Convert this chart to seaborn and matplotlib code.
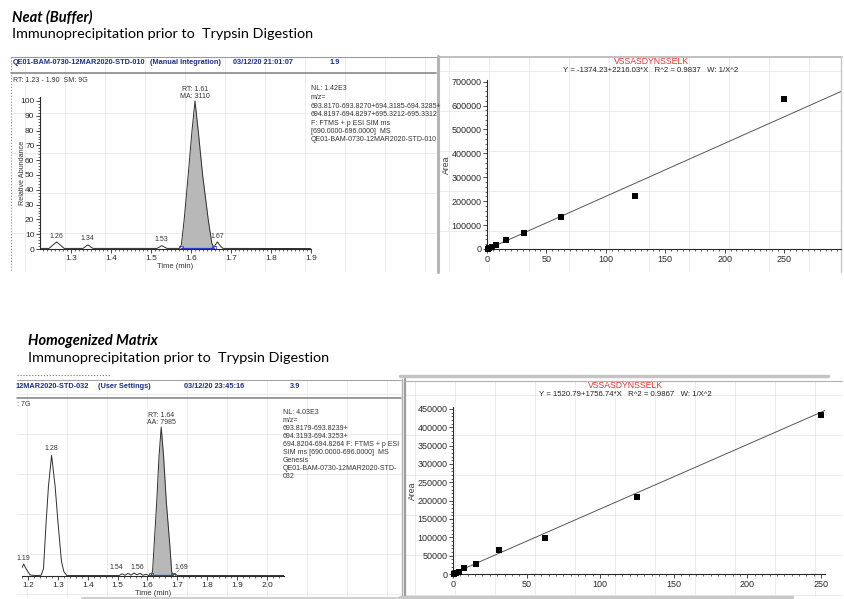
import matplotlib
matplotlib.use("Agg")
import matplotlib.pyplot as plt
from matplotlib.ticker import MultipleLocator, StrMethodFormatter
import seaborn as sns
import numpy as np

W, H = 844, 599

# ---- values ----
# Neat (buffer): chromatogram, relative abundance (%) vs retention time (min)
neat_time = [1.2225, 1.245, 1.254, 1.264, 1.274, 1.283, 1.330, 1.336, 1.342, 1.349, 1.355,
             1.515, 1.521, 1.527, 1.534, 1.540, 1.572, 1.576, 1.583, 1.593, 1.6025, 1.61,
             1.618, 1.629, 1.643, 1.652, 1.657, 1.660, 1.666, 1.673, 1.680, 1.90]
neat_abund = [0.4, 0.4, 2.5, 4.8, 2.5, 0.4, 0.4, 1.6, 2.8, 1.5, 0.4,
              0.4, 1.3, 2.3, 1.2, 0.4, 0.4, 3.0, 20, 50, 80, 100,
              80, 50, 20, 4.0, 1.0, 2.5, 4.8, 2.2, 0.4, 0.3]
neat_integration = [1.574, 1.657]
neat_peaks = {"1.26": (1.264, 5.5), "1.34": (1.342, 3.6), "1.53": (1.527, 3.2), "1.67": (1.666, 5.6)}

# Homogenized matrix chromatogram
matrix_time = [1.18, 1.186, 1.193, 1.207, 1.226, 1.244, 1.252, 1.261, 1.2685, 1.279, 1.291,
               1.300, 1.312, 1.320, 1.330, 1.505, 1.515, 1.525, 1.535, 1.545, 1.555, 1.565,
               1.575, 1.585, 1.595, 1.605, 1.612, 1.617, 1.622, 1.631, 1.6385, 1.646, 1.654,
               1.663, 1.675, 1.681, 1.686, 1.692, 1.700, 2.057]
matrix_abund = [5.5, 8.0, 5.0, 0.7, 0.3, 0.5, 5, 37, 60, 81, 60,
                37, 10, 3, 0.3, 0.3, 1.5, 0.5, 1.8, 0.6, 2.0, 0.8,
                1.8, 0.5, 1.2, 0.3, 0.5, 3, 20, 50, 80, 100, 80,
                50, 20, 3, 0.5, 1.5, 0.3, 0.3]
matrix_integration = [1.612, 1.684]

# calibration curves: Area vs concentration
conc = [0.977, 1.95, 3.91, 7.81, 15.6, 31.25, 62.5, 125, 250]
neat_area = [1000, 4000, 9000, 15500, 37000, 66000, 132000, 221000, 628000]
matrix_area = [500, 2800, 5700, 16000, 27000, 65000, 98000, 211000, 433000]
neat_fit = (-1374.23, 2216.03)
matrix_fit = (1520.79, 1756.74)

NAVY = "#1b2f86"
RED = "#e5332a"
INK = "#2a2a2a"

sns.set_theme(style="white")
plt.rcParams["font.family"] = ["Liberation Sans", "DejaVu Sans"]
TITLE_FONT = ["Lato", "Open Sans", "DejaVu Sans"]

fig = plt.figure(figsize=(W / 100, H / 100), dpi=100)
bg = fig.add_axes([0, 0, 1, 1])
bg.set_xlim(0, W)
bg.set_ylim(H, 0)
bg.axis("off")


def px_axes(x0, y0, x1, y1):
    ax = fig.add_axes([x0 / W, 1 - y1 / H, (x1 - x0) / W, (y1 - y0) / H])
    ax.patch.set_alpha(0)
    return ax


def panel_grid(x0, y0, x1, y1, ox, oy, step=40):
    for x in np.arange(x0 + ox, x1, step):
        bg.plot([x, x], [y0, y1], color="#e4e4e4", lw=0.5)
    for y in np.arange(y0 + oy, y1, step):
        bg.plot([x0, x1], [y, y], color="#e4e4e4", lw=0.5)


def style_axes(ax, size, hide_left=False):
    sns.despine(ax=ax)
    for s in ["left", "bottom"]:
        ax.spines[s].set_linewidth(0.8)
        ax.spines[s].set_color(INK)
    if hide_left:
        ax.spines["left"].set_visible(False)
        ax.tick_params(axis="y", which="both", left=False, labelleft=False)
    ax.tick_params(which="major", length=3, width=0.6, labelsize=size, pad=1,
                   direction="out", colors=INK, left=not hide_left, bottom=True)
    ax.tick_params(which="minor", length=1.6, width=0.5, direction="out", colors=INK,
                   left=not hide_left, bottom=True)
    ax.grid(False)


# ---- slide titles ----
for y0, head in [(17, "Neat (Buffer)"), (341, "Homogenized Matrix")]:
    x0 = 12 if y0 == 17 else 28
    bg.text(x0, y0, head, fontsize=10.5, fontweight="bold", style="italic",
            family=TITLE_FONT, va="center", color="black")
    bg.text(x0, y0 + 17, "Immunoprecipitation prior to  Trypsin Digestion",
            fontsize=10.4, family=TITLE_FONT, va="center", color="black")

# ---- panel chrome ----
panel_grid(11, 57, 436, 271, 14, 16)
panel_grid(439, 57, 841, 271, 10, 14)
panel_grid(17, 380, 401, 597, 10, 14)
panel_grid(405, 381, 842, 596, 10, 14)

bg.plot([11, 11], [57, 271], color="#8a8a8a", lw=0.8, ls=":")
bg.plot([11, 436], [57, 57], color="#9a9a9a", lw=0.8)
bg.plot([11, 436], [72.5, 72.5], color="#8a8a8a", lw=1.2)
bg.plot([437.5, 437.5], [56, 272], color="#b5b5b5", lw=2.2)
bg.plot([439, 842], [56.5, 56.5], color="#b5b5b5", lw=1.2)
bg.plot([840.5, 840.5], [56, 272], color="#c8c8c8", lw=1.0)

bg.plot([17, 110], [375, 375], color="#777777", lw=0.8, ls=":")
bg.plot([400, 828], [375.5, 375.5], color="#c4c4c4", lw=2.5)
bg.plot([17, 401], [379.5, 379.5], color="#a5a5a5", lw=0.8)
bg.plot([17, 401], [397.5, 397.5], color="#8a8a8a", lw=1.2)
bg.plot([401.5, 401.5], [379, 599], color="#b0b0b0", lw=1.0)
bg.plot([404.5, 404.5], [379, 597], color="#9c9c9c", lw=1.6)
bg.plot([405, 842], [380.5, 380.5], color="#b0b0b0", lw=0.8)
bg.plot([82, 400], [597.5, 597.5], color="#d0d0d0", lw=2.2)
bg.plot([400, 792], [596.5, 596.5], color="#c8c8c8", lw=2.5)

# ---- header texts ----
hdr = dict(fontsize=5.3, fontweight="bold", color=NAVY, va="center")
bg.text(12.5, 62, "QE01-BAM-0730-12MAR2020-STD-010", **hdr)
bg.text(150, 62, "(Manual Integration)", **hdr)
bg.text(233, 62, "03/12/20 21:01:07", **hdr)
bg.text(330, 62, "1.9", **hdr)
bg.text(16, 386, "12MAR2020-STD-032", **hdr)
bg.text(98, 386, "(User Settings)", **hdr)
bg.text(184, 386, "03/12/20 23:45:16", **hdr)
bg.text(290, 386, "3.9", **hdr)

small = dict(fontsize=5.0, color="#333333", va="center")
bg.text(13, 80, "RT: 1.23 - 1.90  SM: 9G", **small)
bg.text(17, 405, ": 7G", **small)

neat_info = ["NL: 1.42E3", "m/z=", "693.8170-693.8270+694.3185-694.3285+",
             "694.8197-694.8297+695.3212-695.3312", "F: FTMS + p ESI SIM ms",
             "[690.0000-696.0000]  MS", "QE01-BAM-0730-12MAR2020-STD-010"]
for i, line in enumerate(neat_info):
    bg.text(311, 88 + 8.4 * i + (1.5 if i else 0), line, **small)

matrix_info = ["NL: 4.03E3", "m/z=", "693.8179-693.8239+", "694.3193-694.3253+",
               "694.8204-694.8264 F: FTMS + p ESI", "SIM ms [690.0000-696.0000]  MS",
               "Genesis", "QE01-BAM-0730-12MAR2020-STD-", "032"]
for i, line in enumerate(matrix_info):
    bg.text(283, 413 + 8.0 * i, line, **small)

# ---- chromatograms ----
def chromatogram(ax, t, a, integ, xlim, hide_left=False):
    sns.lineplot(x=t, y=a, color="#2e2e2e", lw=0.7, ax=ax, sort=False)
    t_arr, a_arr = np.array(t), np.array(a)
    inside = (t_arr >= integ[0]) & (t_arr <= integ[1])
    ax.fill_between(t_arr[inside], a_arr[inside], color="#b8b8b8", lw=0)
    sns.lineplot(x=integ, y=[0.4, 0.4], color="#2b3fd0", lw=0.9, marker="s",
                 markersize=2.6, markerfacecolor="none", markeredgecolor="#2b3fd0",
                 markeredgewidth=0.6, ax=ax)
    ax.set_xlim(*xlim)
    ax.set_ylim(0, 102.7)
    ax.xaxis.set_major_locator(MultipleLocator(0.1))
    ax.yaxis.set_major_locator(MultipleLocator(10))
    ax.yaxis.set_minor_locator(MultipleLocator(2))
    ax.xaxis.set_major_formatter(StrMethodFormatter("{x:.1f}"))
    style_axes(ax, 6.0, hide_left)
    ax.set_xlabel("Time (min)", fontsize=5.5, labelpad=1, color="#333333")


lbl = dict(fontsize=5.0, color="#333333", ha="center", va="bottom", clip_on=False)

ax1 = px_axes(40, 97, 311, 249)
chromatogram(ax1, neat_time, neat_abund, neat_integration, (1.2225, 1.9))
ax1.xaxis.set_minor_locator(MultipleLocator(0.01))
ax1.set_ylabel("Relative Abundance", fontsize=5.2, color="#333333")
ax1.yaxis.set_label_coords(-0.05, 0.5)
ax1.text(1.61, 100.8, "RT: 1.61\nMA: 3110", linespacing=1.05, **lbl)
for name, (tx, ty) in neat_peaks.items():
    ax1.text(tx, ty + 0.8, name, **lbl)

ax3 = px_axes(22, 423, 284, 576)
chromatogram(ax3, matrix_time, matrix_abund, matrix_integration, (1.18, 2.057), hide_left=True)
ax3.xaxis.set_minor_locator(MultipleLocator(0.02))
ax3.text(1.646, 100.8, "RT: 1.64\nAA: 7985", linespacing=1.05, **lbl)
ax3.text(1.279, 83, "1.28", **lbl)
ax3.text(1.184, 9.5, "1.19", **lbl)
green = dict(arrowprops=dict(arrowstyle="-", color="#4aa84a", lw=0.5), **lbl)
ax3.annotate("1.54", xy=(1.54, 1.5), xytext=(1.495, 3.2), **green)
ax3.annotate("1.56", xy=(1.565, 1.2), xytext=(1.566, 3.4), **lbl)
ax3.annotate("1.69", xy=(1.692, 1.4), xytext=(1.714, 3.2), **green)

# ---- calibration curves ----
def calibration(ax, area, fit, xmax, ymax, title_x, title_y):
    fit_x = [0, xmax]
    fit_y = [fit[0] + fit[1] * v for v in fit_x]
    sns.lineplot(x=fit_x, y=fit_y, color="#555555", lw=0.7, ax=ax)
    sns.scatterplot(x=conc, y=area, marker="s", s=14, color="black", edgecolor="black",
                    linewidth=0, ax=ax, clip_on=False, zorder=3)
    ax.set_xlim(0, xmax)
    ax.set_ylim(0, ymax)
    ax.xaxis.set_major_locator(MultipleLocator(50))
    ax.xaxis.set_minor_locator(MultipleLocator(5))
    ax.yaxis.set_major_formatter(StrMethodFormatter("{x:.0f}"))
    style_axes(ax, 6.5)
    ax.set_ylabel("Area", fontsize=6.2, labelpad=0, color="#333333")
    sign = "-" if fit[0] < 0 else ""
    r2 = "0.9837" if fit is neat_fit else "0.9867"
    bg.text(title_x, title_y, "VSSASDYNSSELK", color=RED, fontsize=6.2, ha="center", va="center")
    bg.text(title_x, title_y + 9, f"Y = {sign}{abs(fit[0]):.2f}+{fit[1]:.2f}*X   R^2 = {r2}   W: 1/X^2",
            color="#222222", fontsize=5.6, ha="center", va="center")


ax2 = px_axes(487, 80, 841, 249)
calibration(ax2, neat_area, neat_fit, 298, 707000, 651, 61)
ax2.yaxis.set_major_locator(MultipleLocator(100000))
ax2.yaxis.set_minor_locator(MultipleLocator(20000))

ax4 = px_axes(453, 407, 825, 574)
calibration(ax4, matrix_area, matrix_fit, 252.7, 455000, 625, 386)
ax4.yaxis.set_major_locator(MultipleLocator(50000))
ax4.yaxis.set_minor_locator(MultipleLocator(10000))

fig.savefig("out.png", dpi=100)
